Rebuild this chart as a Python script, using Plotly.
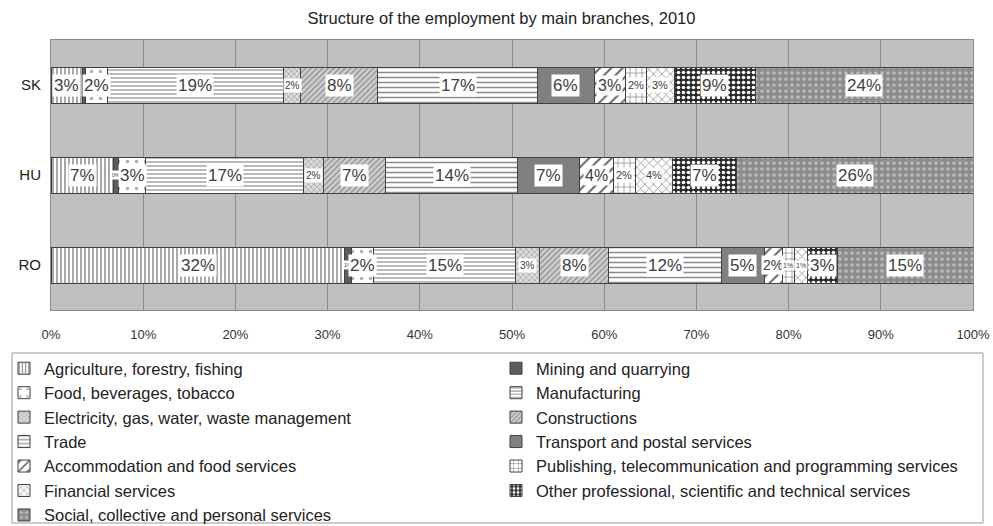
import plotly.graph_objects as go

# Employment shares (%) by branch, 2010
countries = ["SK", "HU", "RO"]
branches = [
    "Agriculture, forestry, fishing",
    "Mining and quarrying",
    "Food, beverages, tobacco",
    "Manufacturing",
    "Electricity, gas, water, waste management",
    "Constructions",
    "Trade",
    "Transport and postal services",
    "Accommodation and food services",
    "Publishing, telecommunication and programming services",
    "Financial services",
    "Other professional, scientific and technical services",
    "Social, collective and personal services",
]
sk = [3.4, 0.3, 2.4, 19.1, 1.9, 8.3, 17.4, 6.1, 3.4, 2.3, 3.0, 8.8, 23.6]
hu = [6.8, 0.5, 3.0, 17.1, 2.2, 6.7, 14.3, 6.7, 3.7, 2.4, 4.0, 6.9, 25.7]
ro = [31.8, 0.8, 2.4, 15.4, 2.6, 7.5, 12.2, 4.7, 1.9, 1.3, 1.4, 3.3, 14.7]
values = {"SK": sk, "HU": hu, "RO": ro}

# Fill style per branch: (background, foreground, pattern shape, size, solidity)
styles = [
    ("#ffffff", "#707070", "|", 4, 0.3),
    ("#5c5c5c", "#5c5c5c", "", 8, 0.3),
    ("#ffffff", "#b0b0b0", ".", 9, 0.12),
    ("#ffffff", "#a8a8a8", "-", 4, 0.4),
    ("#dcdcdc", "#9a9a9a", "x", 4, 0.3),
    ("#cfcfcf", "#8a8a8a", "/", 4, 0.3),
    ("#ffffff", "#8a8a8a", "-", 5, 0.3),
    ("#808080", "#808080", "", 8, 0.3),
    ("#ffffff", "#666666", "/", 8, 0.25),
    ("#ffffff", "#777777", "+", 6, 0.2),
    ("#ffffff", "#777777", "x", 6, 0.2),
    ("#2a2a2a", "#ffffff", ".", 5, 0.4),
    ("#8c8c8c", "#b8b8b8", ".", 6, 0.3),
]
# label font size per branch; narrow segments get smaller text
label_sizes = [17, 5, 17, 17, 10, 17, 17, 17, 16, 11, 11, 17, 17]
label_size_override = {("RO", 8): 14, ("RO", 9): 7, ("RO", 10): 7}

fig = go.Figure()
for i, name in enumerate(branches):
    bg, fg, shape, size, sol = styles[i]
    fig.add_trace(go.Bar(
        name=name,
        y=countries,
        x=[values[c][i] for c in countries],
        orientation="h",
        legend="legend" if i % 2 == 0 else "legend2",
        marker=dict(
            color=bg,
            line=dict(color="#404040", width=1),
            pattern=dict(shape=shape, fgcolor=fg, bgcolor=bg, size=size,
                         solidity=sol, fillmode="replace"),
        ),
        hoverinfo="x+name",
    ))

# value labels in white boxes at the middle of each segment
annotations = []
for c in countries:
    start = 0.0
    for i, v in enumerate(values[c]):
        mid = start + v / 2
        start += v
        if v < 0.5:
            continue
        annotations.append(dict(
            x=mid, y=c, xref="x", yref="y",
            text=f"{v:.0f}%", showarrow=False,
            font=dict(family="Liberation Sans, Arial",
                      size=label_size_override.get((c, i), label_sizes[i]),
                      color="#404040"),
            bgcolor="#ffffff", borderpad=1,
        ))

# geometry of the plot area in pixels, used to place the legend frame
W, H = 993, 526
L, R, T, B = 51, 20, 40, 216
pw, ph = W - L - R, H - T - B


def px_x(x):
    return (x - L) / pw


def px_y(y):
    return (H - B - y) / ph


legend_common = dict(
    orientation="v", yanchor="top", xanchor="left",
    bgcolor="rgba(0,0,0,0)", borderwidth=0,
    font=dict(family="Liberation Sans, Arial", size=16.5, color="#222222"),
    traceorder="normal", itemwidth=30, tracegroupgap=0,
)

fig.update_layout(
    width=W, height=H,
    margin=dict(l=L, r=R, t=T, b=B, autoexpand=False),
    paper_bgcolor="#ffffff",
    plot_bgcolor="#c0c0c0",
    barmode="stack",
    bargap=0.6,
    font=dict(family="Liberation Sans, Arial", color="#222222", size=13),
    title=dict(text="Structure of the employment by main branches, 2010",
               x=0.505, xanchor="center", y=0.965, yanchor="middle",
               font=dict(size=16.5, color="#222222")),
    xaxis=dict(range=[0, 100], dtick=10, ticksuffix="%", showgrid=True,
               gridcolor="#8a8a8a", gridwidth=1, zeroline=False,
               showline=True, linecolor="#8a8a8a", mirror=True,
               tickfont=dict(size=13, color="#333333"),
               ticklabelstandoff=12, fixedrange=True, automargin=False),
    yaxis=dict(autorange="reversed", showgrid=False,
               showline=True, linecolor="#8a8a8a", mirror=True,
               tickfont=dict(size=15, color="#222222"), ticks="",
               ticklabelstandoff=6, automargin=False),
    legend=dict(x=px_x(4), y=px_y(351), **legend_common),
    legend2=dict(x=px_x(496), y=px_y(351), **legend_common),
    shapes=[dict(type="rect", xref="paper", yref="paper",
                 x0=px_x(12), x1=px_x(983), y0=px_y(523), y1=px_y(353),
                 line=dict(color="#9a9a9a", width=1),
                 fillcolor="rgba(0,0,0,0)")],
    annotations=annotations,
    showlegend=True,
)

fig.write_html("out.html")
